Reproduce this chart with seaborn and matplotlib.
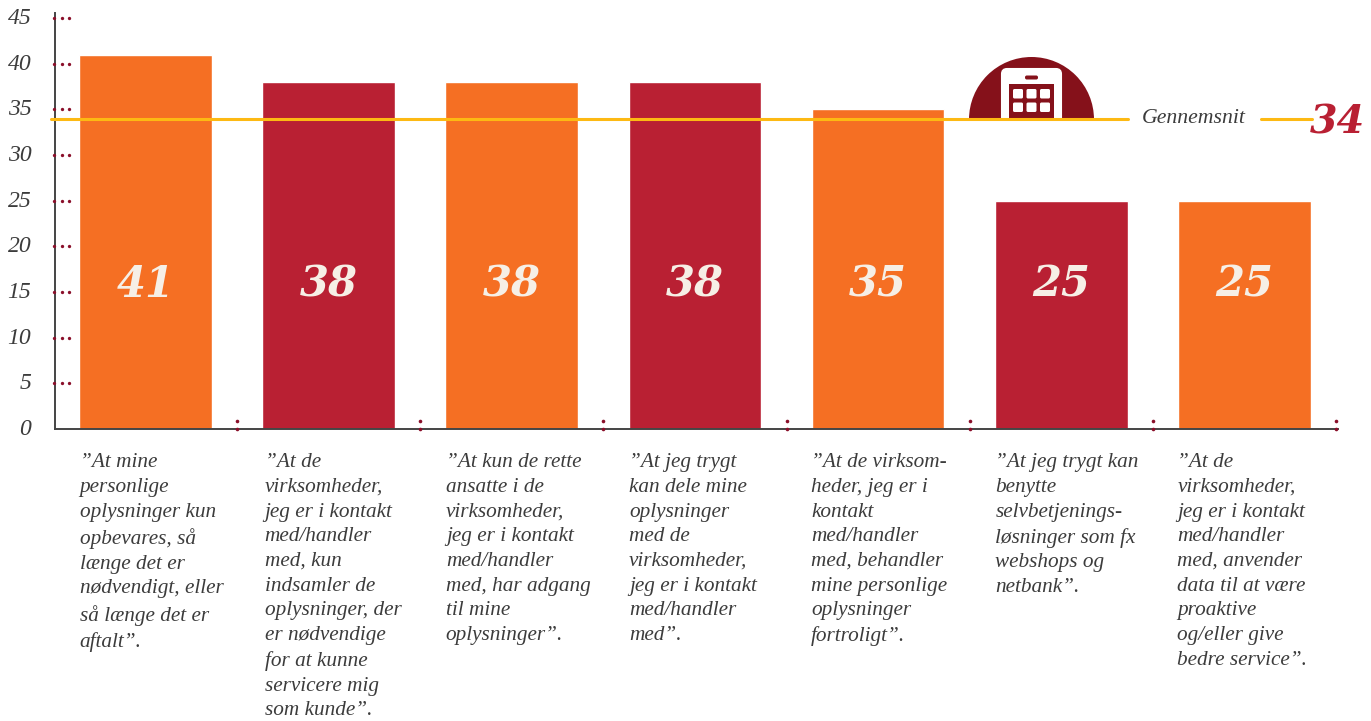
import matplotlib
matplotlib.use("Agg")
import matplotlib.pyplot as plt
import matplotlib.patches as mpatches
from matplotlib.transforms import ScaledTranslation
import pandas as pd
import seaborn as sns

statements = [
    "”At mine\npersonlige\noplysninger kun\nopbevares, så\nlænge det er\nnødvendigt, eller\nså længe det er\naftalt”.",
    "”At de\nvirksomheder,\njeg er i kontakt\nmed/handler\nmed, kun\nindsamler de\noplysninger, der\ner nødvendige\nfor at kunne\nservicere mig\nsom kunde”.",
    "”At kun de rette\nansatte i de\nvirksomheder,\njeg er i kontakt\nmed/handler\nmed, har adgang\ntil mine\noplysninger”.",
    "”At jeg trygt\nkan dele mine\noplysninger\nmed de\nvirksomheder,\njeg er i kontakt\nmed/handler\nmed”.",
    "”At de virksom-\nheder, jeg er i\nkontakt\nmed/handler\nmed, behandler\nmine personlige\noplysninger\nfortroligt”.",
    "”At jeg trygt kan\nbenytte\nselvbetjenings-\nløsninger som fx\nwebshops og\nnetbank”.",
    "”At de\nvirksomheder,\njeg er i kontakt\nmed/handler\nmed, anvender\ndata til at være\nproaktive\nog/eller give\nbedre service”.",
]
scores = [41, 38, 38, 38, 35, 25, 25]
bar_colors = ["#f56f23", "#b92033", "#f56f23", "#b92033", "#f56f23", "#b92033", "#f56f23"]
y_ticks = [0, 5, 10, 15, 20, 25, 30, 35, 40, 45]
average = 34
average_label = "Gennemsnit"

W, H = 1371, 721
SERIF = "Liberation Serif"
SLAB = "DejaVu Serif"
INK = "#3c3c3c"
DOT = "#8a0f2a"
GOLD = "#fdb913"
ICON = "#85111a"
PX_PER_UNIT = 9.13
PX_PER_BAR = 183.15

sns.set_theme(style="white")
plt.rcParams["font.family"] = [SERIF, "DejaVu Serif"]

fig = plt.figure(figsize=(W / 100, H / 100), dpi=100, facecolor="white")

# overlay in pixel coordinates for the phone badge, behind the chart
ov = fig.add_axes([0, 0, 1, 1], zorder=1)
ov.set_xlim(0, W)
ov.set_ylim(H, 0)
ov.axis("off")
clip = mpatches.Rectangle((960, 40), 150, 78, transform=ov.transData)
badge = mpatches.Circle((1031.5, 119.5), 62.5, fc=ICON, ec="none")
ov.add_patch(badge)
badge.set_clip_path(clip)
phone = mpatches.FancyBboxPatch((1002, 69), 59, 62, boxstyle="round,pad=0,rounding_size=5",
                                fc="white", ec="white", lw=1.5)
ov.add_patch(phone)
phone.set_clip_path(clip)
ov.add_patch(mpatches.Rectangle((1009, 84), 45, 36, fc=ICON, ec="none"))
ov.add_patch(mpatches.FancyBboxPatch((1025, 75.5), 13, 4, boxstyle="round,pad=0,rounding_size=1.8",
                                     fc=ICON, ec="none"))
for top in (89, 102.5):
    for left in (1013, 1026.5, 1040):
        ov.add_patch(mpatches.FancyBboxPatch((left, top), 10, 9.5, boxstyle="round,pad=0,rounding_size=1.5",
                                             fc="white", ec="none"))

# plot area in pixels: left 55, right 1338, baseline 429, top of axis 13
ax = fig.add_axes([55 / W, (H - 429) / H, (1338 - 55) / W, (429 - 13) / H], zorder=2)
ax.patch.set_alpha(0)
frame = pd.DataFrame({"idx": range(len(scores)), "score": scores})
sns.barplot(data=frame, x="idx", y="score", hue="idx", palette=bar_colors,
            width=0.725, legend=False, saturation=1, ax=ax, zorder=2)
ax.set_xlim(-0.494, 6.511)
ax.set_ylim(0, 416 / PX_PER_UNIT)
ax.set_xlabel("")
ax.set_ylabel("")
ax.set_xticks([])
ax.set_yticks(y_ticks)
ax.set_yticklabels([str(v) for v in y_ticks], fontsize=17, style="italic", color=INK)
ax.tick_params(axis="y", length=0, pad=17)
lift = ScaledTranslation(0, 1.5 / 72, fig.dpi_scale_trans)
for lab in ax.get_yticklabels():
    lab.set_verticalalignment("center_baseline")
    lab.set_transform(lab.get_transform() + lift)
for side in ("top", "right"):
    ax.spines[side].set_visible(False)
for side in ("left", "bottom"):
    ax.spines[side].set_color("#444444")
    ax.spines[side].set_linewidth(1.4)

# value labels inside the bars
for i, v in enumerate(scores):
    ax.text(i, 15.8, str(v), ha="center", va="center", fontsize=30,
            style="italic", weight="bold", family=SLAB, color="#f6efe6", zorder=4)

# dotted tick marks, three dots per y tick
y_tf = ax.get_yaxis_transform()
for v in y_ticks[1:]:
    ax.plot([-1 / 1283, 7 / 1283, 14 / 1283], [v] * 3, ls="", marker="o", ms=2.4,
            mec="none", color=DOT, transform=y_tf, clip_on=False, zorder=5)
# two dots on the baseline between neighbouring bars
for i in range(len(scores)):
    ax.plot([i + 0.5] * 2, [0, 8 / PX_PER_UNIT], ls="", marker="o", ms=2.6,
            mec="none", color=DOT, clip_on=False, zorder=5)

# statements under each bar, aligned with the bar's left edge
x_nudge = [0, 2, 0, 0, -1, 0, -1]
for i, text in enumerate(statements):
    ax.annotate(text, xy=(i - 0.36, 0), xycoords="data",
                xytext=(x_nudge[i] * 0.72, -17.5), textcoords="offset points",
                ha="left", va="top", multialignment="left", fontsize=15.3,
                style="italic", color=INK, linespacing=1.405, annotation_clip=False)

# average rule, broken around its label
to_x = lambda px: (px - 146) / PX_PER_BAR
for start, stop in ((52, 1128), (1261, 1312)):
    ax.plot([to_x(start), to_x(stop)], [average, average], color=GOLD, lw=2.2,
            solid_capstyle="round", clip_on=False, zorder=3)
ax.annotate(average_label, xy=(to_x(1142), average), xytext=(0, -3.5),
            textcoords="offset points", ha="left", va="baseline", fontsize=15.7,
            style="italic", color=INK, annotation_clip=False)
ax.annotate(str(average), xy=(to_x(1310), average), xytext=(0, -11),
            textcoords="offset points", ha="left", va="baseline", fontsize=28.5,
            style="italic", weight="bold", family=SLAB, color="#b92033", annotation_clip=False)

fig.savefig("out.png", dpi=100, facecolor="white")
